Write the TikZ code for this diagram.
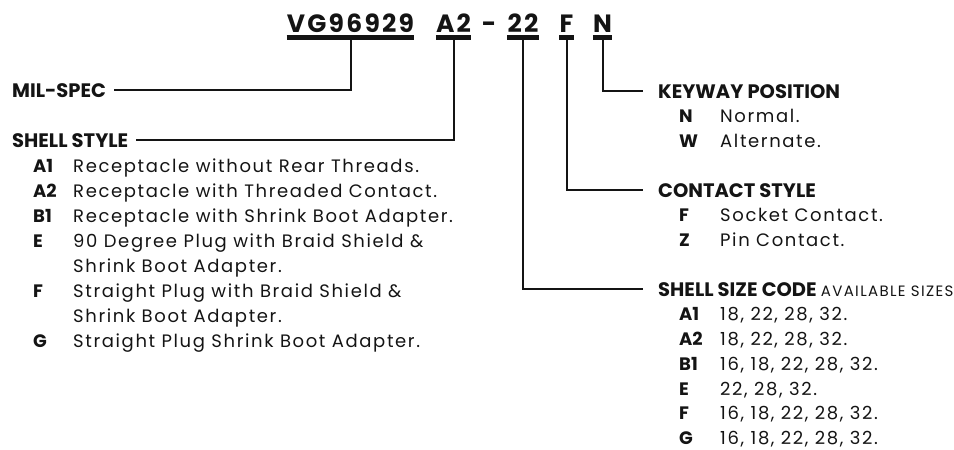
\documentclass[tikz,border=0pt]{standalone}
\usepackage{fontspec}
\setmainfont{Poppins}
\newfontfamily\pnfont[LetterSpace=9]{Poppins}
\newfontfamily\bodyfont[LetterSpace=9]{Poppins}
\usetikzlibrary{positioning}
\colorlet{ink}{black!92}
\tikzset{
  pnum/.style  ={font=\pnfont\bfseries\fontsize{25}{30}\selectfont, text=ink,
                 anchor=base, inner sep=0pt},
  ubar/.style  ={-, ink, line width=5pt},
  lead/.style  ={-, ink, line width=2pt},
  head/.style  ={font=\bfseries\fontsize{19.5}{25}\selectfont, text=ink,
                 anchor=base west, inner sep=0pt},
  code/.style  ={font=\bfseries\fontsize{18}{25}\selectfont, text=ink,
                 anchor=base west, inner sep=0pt},
  desc/.style  ={font=\bodyfont\fontsize{18}{25}\selectfont, text=ink,
                 anchor=base west, inner sep=0pt},
}

\begin{document}
\begin{tikzpicture}[x=1pt, y=-1pt]
\useasboundingbox (0,0) rectangle (954,450);

% Part number, one node per field, underlined
\node[pnum] (fVG)   at (350.5, 32) {VG96929};
\node[pnum] (fA2)   at (453.5, 32) {A2};
\node[pnum] (fdash) at (489, 32)   {-};
\node[pnum] (f22)   at (523, 32)   {22};
\node[pnum] (fF)    at (566.5, 32) {F};
\node[pnum] (fN)    at (602.5, 32) {N};
\foreach \f in {fVG, fA2, f22, fF, fN}
  \draw[ubar] ([yshift=-5.5pt]\f.base west) -- ([yshift=-5.5pt]\f.base east);

% Left column
\node[head] (milspec)    at (12, 97)  {MIL-SPEC};
\node[head] (shellstyle) at (12, 147) {SHELL STYLE};
\draw[lead] ([yshift=-8pt]fVG.base) |- ([xshift=8pt]milspec.east);
\draw[lead] ([yshift=-8pt]fA2.base) |- ([xshift=8pt]shellstyle.east);

\foreach \c/\y/\t in {A1/172/{Receptacle without Rear Threads.},
                      A2/197/{Receptacle with Threaded Contact.},
                      B1/222/{Receptacle with Shrink Boot Adapter.},
                      E/247/{90 Degree Plug with Braid Shield \&},
                      F/297/{Straight Plug with Braid Shield \&},
                      G/347/{Straight Plug Shrink Boot Adapter.}} {
  \node[code] (ss-\c) at (33, \y) {\c};
  \node[desc] (ssd-\c) at (73, \y) {\t};
}
\node[desc] (ssd-E2) at (73, 272) {Shrink Boot Adapter.};
\node[desc] (ssd-F2) at (73, 322) {Shrink Boot Adapter.};

% Right column
\node[head] (keyway)  at (658, 98)  {KEYWAY POSITION};
\node[head] (contact) at (658, 197) {CONTACT STYLE};
\node[head] (size)    at (658, 296)
  {SHELL SIZE CODE {\bodyfont\mdseries\fontsize{15}{15}\selectfont AVAILABLE SIZES}};
\draw[lead] ([yshift=-8pt]fN.base)  |- ([xshift=-15pt]keyway.west);
\draw[lead] ([yshift=-8pt]fF.base)  |- ([xshift=-15pt]contact.west);
\draw[lead] ([yshift=-8pt]f22.base) |- ([xshift=-15pt]size.west);

\foreach \c/\y/\t in {N/122.75/{Normal.}, W/147.5/{Alternate.},
                      F/221.75/{Socket Contact.}, Z/246.5/{Pin Contact.}} {
  \node[code] (kc-\c) at (679, \y) {\c};
  \node[desc] (kd-\c) at (720, \y) {\t};
}

\foreach \c/\y/\t in {A1/320.75/{18, 22, 28, 32.},
                      A2/345.5/{18, 22, 28, 32.},
                      B1/370.25/{16, 18, 22, 28, 32.},
                      E/395/{22, 28, 32.},
                      F/419.75/{16, 18, 22, 28, 32.},
                      G/444.5/{16, 18, 22, 28, 32.}} {
  \node[code] (sc-\c) at (679, \y) {\c};
  \node[desc] (sd-\c) at (720, \y) {\t};
}

\end{tikzpicture}
\end{document}
